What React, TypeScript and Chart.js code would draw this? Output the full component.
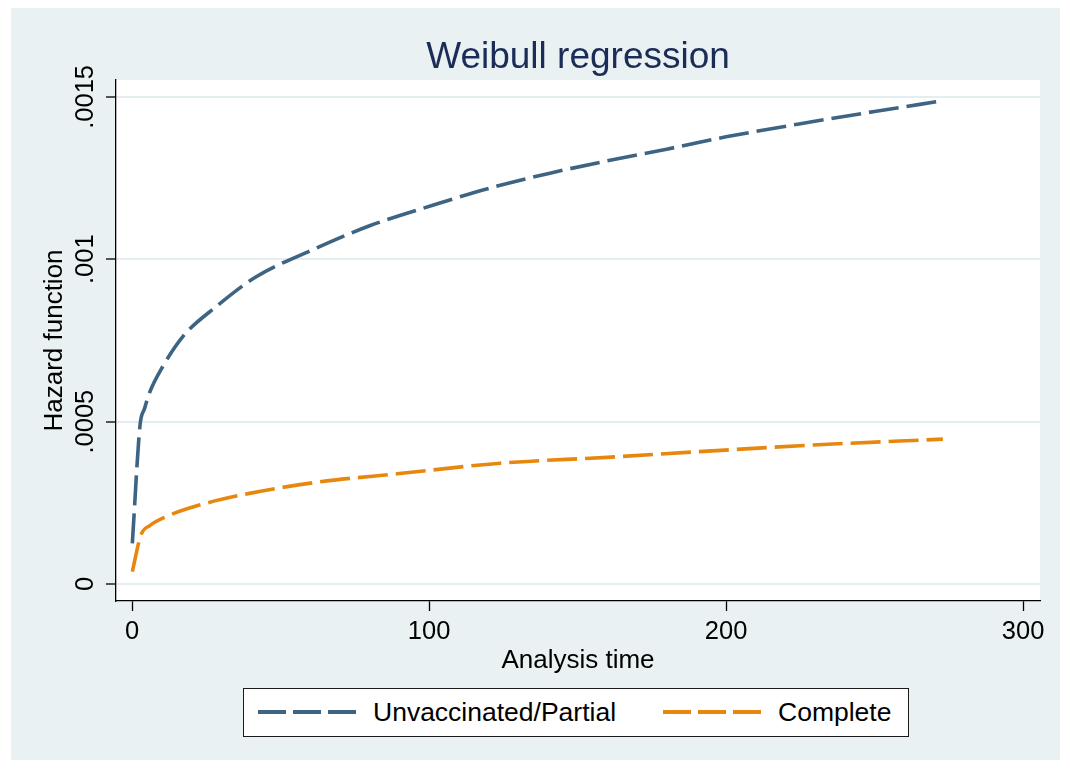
import React, { useEffect, useRef } from "react";
import { Chart, registerables } from "chart.js";

Chart.register(...registerables);

// ---- data ----
const unvaccinatedTimes = [0.1, 2.7, 4.2, 5.8, 10.3, 17.1, 28.3, 41.8, 60.8, 80, 101.5, 120, 140.7, 160, 180, 200, 229.4, 250, 273];
const unvaccinatedHazard = [0.000125, 0.00049, 0.00054, 0.000587, 0.000669, 0.000762, 0.000854, 0.000946, 0.001029, 0.001103, 0.001167, 0.001218, 0.001265, 0.001303, 0.001339, 0.001377, 0.001424, 0.001455, 0.001488];

const completeTimes = [0.1, 3, 6, 11.4, 22.7, 39.5, 62, 90, 123.9, 160, 190, 229.4, 273];
const completeHazard = [0.000038, 0.000151, 0.00018, 0.000207, 0.000243, 0.000279, 0.000313, 0.00034, 0.000372, 0.00039, 0.000407, 0.000428, 0.000446];

const xTickValues = [0, 100, 200, 300];
const xTickLabels = ["0", "100", "200", "300"];
const yTickValues = [0, 0.0005, 0.001, 0.0015];
const yTickLabels = ["0", ".0005", ".001", ".0015"];

const seriesNames = ["Unvaccinated/Partial", "Complete"];
const chartTitle = "Weibull regression";
const xAxisTitle = "Analysis time";
const yAxisTitle = "Hazard function";

// ---- styles ----
const FONT = "'Liberation Sans', Arial, Helvetica, sans-serif";
const BLUE = "#3d6482";
const ORANGE = "#e8870e";
const OUTER_BG = "#e9f1f3";
const GRID = "#e4edf0";
const TITLE_COLOR = "#1b2c57";
const DASH = [30, 8];

const plotBackground = {
  id: "plotBackground",
  beforeDraw(chart: any) {
    const { ctx, chartArea: a } = chart;
    ctx.save();
    ctx.fillStyle = "#ffffff";
    ctx.fillRect(a.left, a.top, a.right - a.left, a.bottom - a.top);
    ctx.restore();
  },
};

function LegendSample({ color }: { color: string }) {
  return (
    <svg width={98} height={8} style={{ display: "block" }}>
      <line x1={0} y1={4} x2={98} y2={4} stroke={color} strokeWidth={4} strokeDasharray="28 7" />
    </svg>
  );
}

export default function App() {
  const canvasRef = useRef<HTMLCanvasElement | null>(null);

  useEffect(() => {
    if (!canvasRef.current) return;
    const chart = new Chart(canvasRef.current, {
      type: "line",
      data: {
        datasets: [
          {
            label: seriesNames[0],
            data: unvaccinatedTimes.map((t, i) => ({ x: t, y: unvaccinatedHazard[i] })),
            borderColor: BLUE,
            borderWidth: 3.6,
            borderDash: DASH,
            borderCapStyle: "butt",
            pointRadius: 0,
            fill: false,
            cubicInterpolationMode: "monotone",
          },
          {
            label: seriesNames[1],
            data: completeTimes.map((t, i) => ({ x: t, y: completeHazard[i] })),
            borderColor: ORANGE,
            borderWidth: 3.6,
            borderDash: DASH,
            borderCapStyle: "butt",
            pointRadius: 0,
            fill: false,
            cubicInterpolationMode: "monotone",
          },
        ],
      },
      options: {
        animation: false,
        responsive: false,
        devicePixelRatio: 1,
        layout: { padding: { left: 0, right: 20, top: 72, bottom: 0 } },
        plugins: {
          legend: { display: false },
          tooltip: { enabled: false },
          title: { display: false },
        },
        scales: {
          x: {
            type: "linear",
            min: -5.4,
            max: 305.7,
            afterBuildTicks: (scale: any) => {
              scale.ticks = xTickValues.map((v) => ({ value: v }));
            },
            afterFit: (scale: any) => {
              scale.height = 159;
            },
            ticks: {
              callback: (_v: any, i: number) => xTickLabels[i],
              color: "#000",
              font: { family: FONT, size: 25.5 },
              padding: 6,
              maxRotation: 0,
              autoSkip: false,
            },
            grid: {
              display: true,
              drawOnChartArea: false,
              drawTicks: true,
              tickLength: 10,
              tickColor: "#000",
              tickWidth: 1.3,
            },
            border: { display: true, color: "#000", width: 1.3 },
            title: {
              display: true,
              text: xAxisTitle,
              color: "#000",
              font: { family: FONT, size: 26, lineHeight: 1.2 },
              padding: { top: 0, bottom: 84 },
            },
          },
          y: {
            type: "linear",
            min: -0.0000524,
            max: 0.001552,
            afterBuildTicks: (scale: any) => {
              scale.ticks = yTickValues.map((v) => ({ value: v }));
            },
            afterFit: (scale: any) => {
              scale.width = 105;
            },
            ticks: {
              callback: (_v: any, i: number) => yTickLabels[i],
              color: "#000",
              font: { family: FONT, size: 25.5 },
              minRotation: 90,
              maxRotation: 90,
              crossAlign: "center",
              padding: -12,
              autoSkip: false,
            },
            grid: {
              display: true,
              color: GRID,
              lineWidth: 2,
              drawTicks: true,
              tickLength: 10,
              tickColor: "#000",
              tickWidth: 1.3,
            },
            border: { display: true, color: "#000", width: 1.3 },
            title: {
              display: true,
              text: yAxisTitle,
              color: "#000",
              font: { family: FONT, size: 26, lineHeight: 1.2 },
              padding: { top: 28, bottom: 0 },
            },
          },
        },
      } as any,
      plugins: [plotBackground],
    });
    return () => chart.destroy();
  }, []);

  return (
    <div
      style={{
        position: "relative",
        marginLeft: 3,
        width: 1049,
        height: 752,
        background: OUTER_BG,
        fontFamily: FONT,
      }}
    >
      <canvas ref={canvasRef} width={1049} height={752} style={{ position: "absolute", left: 0, top: 0 }} />
      <div
        style={{
          position: "absolute",
          left: 267,
          width: 600,
          top: 29,
          textAlign: "center",
          fontSize: 37,
          lineHeight: "37px",
          color: TITLE_COLOR,
          whiteSpace: "nowrap",
        }}
      >
        {chartTitle}
      </div>
      <div
        style={{
          position: "absolute",
          left: 232,
          top: 680,
          width: 666,
          height: 49,
          boxSizing: "border-box",
          border: "1.5px solid #1a1a1a",
          background: "#ffffff",
        }}
      >
        <div style={{ position: "absolute", left: 14, top: 19 }}>
          <LegendSample color={BLUE} />
        </div>
        <div style={{ position: "absolute", left: 129, top: 0, height: 46, lineHeight: "46px", fontSize: 26.5, color: "#000", whiteSpace: "nowrap" }}>
          {seriesNames[0]}
        </div>
        <div style={{ position: "absolute", left: 419, top: 19 }}>
          <LegendSample color={ORANGE} />
        </div>
        <div style={{ position: "absolute", left: 534, top: 0, height: 46, lineHeight: "46px", fontSize: 26.5, color: "#000", whiteSpace: "nowrap" }}>
          {seriesNames[1]}
        </div>
      </div>
    </div>
  );
}
